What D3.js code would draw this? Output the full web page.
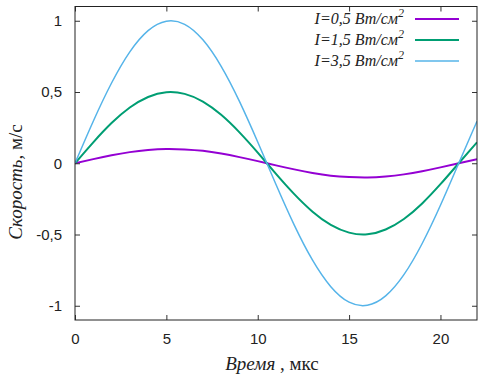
<!DOCTYPE html>
<html><head><meta charset="utf-8">
<script src="https://cdn.jsdelivr.net/npm/d3@7"></script>
<style>body{margin:0;background:#fff}svg{display:block}</style>
</head><body>
<svg id="c" width="484" height="381"></svg>
<script>
const time = [0,1,2,3,4,5,6,7,8,9,10,11,12,13,14,15,16,17,18,19,20,21,22];
const v05 = [0,0.029,0.056,0.078,0.093,0.100,0.097,0.087,0.068,0.043,0.015,-0.015,-0.043,-0.068,-0.087,-0.097,-0.100,-0.093,-0.078,-0.056,-0.029,0,0.029];
const v15 = [0,0.147,0.282,0.391,0.465,0.499,0.487,0.433,0.340,0.217,0.075,-0.075,-0.217,-0.340,-0.433,-0.487,-0.499,-0.465,-0.391,-0.282,-0.147,0,0.147];
const v35 = [0,0.295,0.563,0.782,0.931,0.997,0.975,0.866,0.680,0.434,0.149,-0.149,-0.434,-0.680,-0.866,-0.975,-0.997,-0.931,-0.782,-0.563,-0.295,0,0.295];
const seriesNames = ["I=0,5 Вт/см", "I=1,5 Вт/см", "I=3,5 Вт/см"];
const xTicks = [0,5,10,15,20];
const yTicks = [-1,-0.5,0,0.5,1];

const svg = d3.select("#c");
const L=75, R=477, T=6.5, B=320;
const x = d3.scaleLinear().domain([0,22]).range([L,R]);
const y = d3.scaleLinear().domain([-1.1,1.1]).range([B,T]);
const fmt = d => String(d).replace(".", ",");

const series = [
  {vals:v05, color:"#9400d3", w:2},
  {vals:v15, color:"#009e73", w:2},
  {vals:v35, color:"#56b4e9", w:1.5}
];

const clip = svg.append("clipPath").attr("id","pc").append("rect")
  .attr("x",L).attr("y",T).attr("width",R-L).attr("height",B-T);

const line = d3.line().x((d,i)=>x(time[i])).y(d=>y(d)).curve(d3.curveNatural);
const g = svg.append("g").attr("clip-path","url(#pc)");
series.forEach(s=>{
  g.append("path").attr("d", line(s.vals)).attr("fill","none")
   .attr("stroke", s.color).attr("stroke-width", s.w);
});

// axes with inward ticks
const tickFont = "'Liberation Sans', Arial, sans-serif";
const ax = (gen, tr) => {
  const a = svg.append("g").attr("transform", tr).call(gen);
  a.select(".domain").remove();
  a.selectAll("text").attr("font-family", tickFont).attr("font-size", 15).attr("fill","#222");
  a.selectAll("line").attr("stroke","#333");
  return a;
};
ax(d3.axisBottom(x).tickValues(xTicks).tickSize(-5).tickPadding(13).tickFormat(fmt), `translate(0,${B})`);
ax(d3.axisTop(x).tickValues(xTicks).tickSize(-5).tickFormat(""), `translate(0,${T})`);
ax(d3.axisLeft(y).tickValues(yTicks).tickSize(-5).tickPadding(13).tickFormat(fmt), `translate(${L},0)`);
ax(d3.axisRight(y).tickValues(yTicks).tickSize(-5).tickFormat(""), `translate(${R},0)`);

svg.append("rect").attr("x",L).attr("y",T).attr("width",R-L).attr("height",B-T)
  .attr("fill","none").attr("stroke","#222").attr("stroke-width",1);

// legend
const legY = [19,40,61];
series.forEach((s,i)=>{
  const t = svg.append("text").attr("x",404).attr("y",legY[i]+5).attr("text-anchor","end")
    .attr("font-family","'Liberation Serif', 'Times New Roman', serif").attr("font-style","italic")
    .attr("font-size",16).attr("fill","#222");
  t.append("tspan").text(seriesNames[i]);
  t.append("tspan").attr("dy",-7).attr("font-size",12).text("2");
  svg.append("line").attr("x1",415).attr("x2",459).attr("y1",legY[i]).attr("y2",legY[i])
    .attr("stroke",s.color).attr("stroke-width",s.w);
});

// axis labels
const serif = "'Liberation Serif', 'Times New Roman', serif";
const xl = svg.append("text").attr("x",272).attr("y",370).attr("text-anchor","middle")
  .attr("font-family",serif).attr("font-size",19).attr("fill","#222");
xl.append("tspan").attr("font-style","italic").text("Время");
xl.append("tspan").text(" , мкс");

const yl = svg.append("text").attr("transform","translate(22,182) rotate(-90)").attr("text-anchor","middle")
  .attr("font-family",serif).attr("font-size",19).attr("fill","#222");
yl.append("tspan").attr("font-style","italic").text("Скорость,");
yl.append("tspan").text(" м/с");
</script>
</body></html>
